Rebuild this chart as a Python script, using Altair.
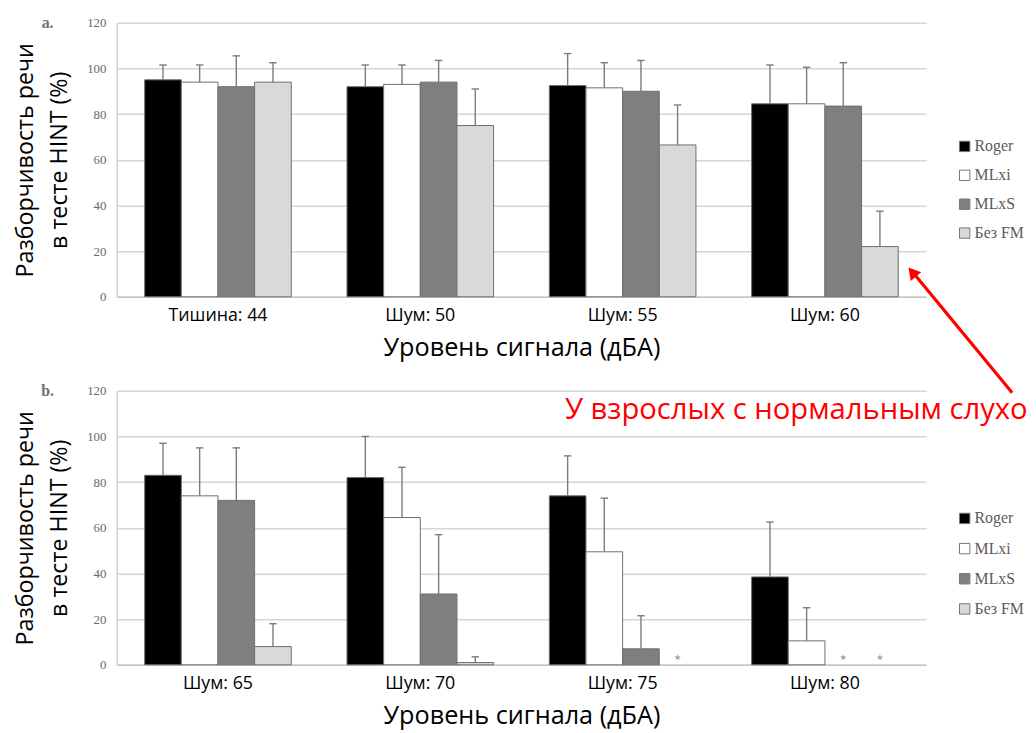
import altair as alt
import pandas as pd

series = ["Roger", "MLxi", "MLxS", "Без FM"]
bar_colors = ["#000000", "#ffffff", "#7f7f7f", "#d9d9d9"]

categories_a = ["Тишина: 44", "Шум: 50", "Шум: 55", "Шум: 60"]
a_roger = [95, 92, 92.5, 84.5]
a_mlxi = [94, 93, 91.5, 84.5]
a_mlxs = [92, 94, 90, 83.5]
a_nofm = [94, 75, 66.5, 22]
a_err_roger = [101.5, 101.5, 106.5, 101.5]
a_err_mlxi = [101.5, 101.5, 102.5, 100.5]
a_err_mlxs = [105.5, 103.5, 103.5, 102.5]
a_err_nofm = [102.5, 91, 84, 37.5]

categories_b = ["Шум: 65", "Шум: 70", "Шум: 75", "Шум: 80"]
b_roger = [83, 82, 74, 38.5]
b_mlxi = [74, 64.5, 49.5, 10.5]
b_mlxs = [72, 31, 7, None]
b_nofm = [8, 1, None, None]
b_err_roger = [97, 100, 91.5, 62.5]
b_err_mlxi = [95, 86.5, 73, 25]
b_err_mlxs = [95, 57, 21.5, None]
b_err_nofm = [18, 3.5, None, None]

star_categories = ["Шум: 75", "Шум: 80", "Шум: 80"]
star_series = ["Без FM", "MLxS", "Без FM"]

y_ticks = [0, 20, 40, 60, 80, 100, 120]
y_title = ["Разборчивость речи", "в тесте HINT (%)"]
x_title = "Уровень сигнала (дБА)"
note_text = "У взрослых с нормальным слухо"

STAR_PATH = ("M0,-1L0.2245,-0.309L0.951,-0.309L0.3633,0.118L0.5878,0.809L0,0.382"
             "L-0.5878,0.809L-0.3633,0.118L-0.951,-0.309L-0.2245,-0.309Z")


def build(cats, vals, errs):
    rows = []
    for si, s in enumerate(series):
        for ci, c in enumerate(cats):
            v = vals[si][ci]
            if v is None:
                continue
            rows.append({"category": c, "series": s, "value": v, "err_top": errs[si][ci]})
    return pd.DataFrame(rows)


df_a = build(categories_a, [a_roger, a_mlxi, a_mlxs, a_nofm],
             [a_err_roger, a_err_mlxi, a_err_mlxs, a_err_nofm])
df_b = build(categories_b, [b_roger, b_mlxi, b_mlxs, b_nofm],
             [b_err_roger, b_err_mlxi, b_err_mlxs, b_err_nofm])
df_stars = pd.DataFrame({"category": star_categories, "series": star_series})

SANS = "Open Sans"
SERIF = "Liberation Serif"


def panel(df, cats, letter, row_pad, legend_y, stars=None, annotate=False):
    x = alt.X("category:N", sort=cats,
              scale=alt.Scale(paddingInner=0, paddingOuter=0),
              axis=alt.Axis(labelAngle=0, labelFont=SANS, labelFontSize=18, labelColor="black",
                            ticks=False, labelPadding=10, domainColor="#c4c4c4", domainWidth=1.5,
                            grid=False, title=x_title, titleFont=SANS, titleFontSize=25.5,
                            titleFontWeight="normal", titleColor="black", titlePadding=11))
    xo = alt.XOffset("series:N", sort=series,
                     scale=alt.Scale(paddingInner=0, paddingOuter=0.76))
    y_axis = alt.Axis(values=y_ticks, labelFont=SERIF, labelFontSize=13, labelColor="#6a6a6a",
                      ticks=False, labelPadding=11, domainColor="#cfcfcf", domainWidth=1.5,
                      gridColor="#d6d6d6", gridWidth=1.5, title=y_title, titleFont=SANS,
                      titleFontSize=23.5, titleFontWeight="normal", titleColor="black",
                      titleLineHeight=35, titlePadding=15)
    y = alt.Y("value:Q", scale=alt.Scale(domain=[0, 120], nice=False), axis=y_axis)
    legend = alt.Legend(
        title=None, orient="none", legendX=849, legendY=legend_y, padding=0,
        symbolType="square", symbolSize=110, symbolStrokeColor="#777777", symbolStrokeWidth=1,
        labelOffset=2, rowPadding=row_pad, labelFont=SERIF, labelFontSize=16,
        labelColor="#5a5a5a",
    )
    bars = alt.Chart(df).mark_bar(stroke="#6e6e6e", strokeWidth=1).encode(
        x=x, xOffset=xo, y=y,
        color=alt.Color("series:N", sort=series,
                        scale=alt.Scale(domain=series, range=bar_colors), legend=legend),
    )
    err = alt.Chart(df).mark_rule(
        color="#7c7c7c", strokeWidth=1.4).encode(x=x, xOffset=xo, y="value:Q", y2="err_top:Q")
    cap = alt.Chart(df).mark_point(shape="stroke", size=56, color="#7c7c7c", strokeWidth=1.4,
                                   opacity=1).encode(x=x, xOffset=xo, y="err_top:Q")
    layers = [bars, err, cap]
    one = pd.DataFrame({"k": [0]})
    layers.append(alt.Chart(one).mark_text(text=letter, font=SERIF, fontSize=16, fontWeight="bold",
                                           color="#707070", align="center", baseline="middle")
                  .encode(x=alt.value(-70), y=alt.value(0)))
    if stars is not None:
        layers.append(alt.Chart(stars).mark_point(shape=STAR_PATH, filled=True, color="#a0a0a0",
                                                  size=50, opacity=1)
                      .encode(x=x, xOffset=xo, y=alt.datum(3.2)))
    if annotate:
        layers.append(alt.Chart(one).mark_rule(color="#ff0000", strokeWidth=3.2).encode(
            x=alt.value(905), y=alt.value(374), x2=alt.value(806), y2=alt.value(254)))
        layers.append(alt.Chart(one).mark_point(shape="triangle-up", filled=True, color="#ff0000",
                                                size=190, angle=320.6, opacity=1).encode(
            x=alt.value(804), y=alt.value(252)))
        layers.append(alt.Chart(one).mark_text(text=note_text, font=SANS, fontSize=29.5,
                                               color="#ff0000", align="left",
                                               baseline="alphabetic").encode(
            x=alt.value(453), y=alt.value(401)))
    return alt.layer(*layers).properties(width=818, height=277)


top = panel(df_a, categories_a, "a.", 13.2, 117, annotate=True)
bottom = panel(df_b, categories_b, "b.", 14.5, 121, stars=df_stars)

chart = alt.vconcat(top, bottom, spacing=95, bounds="flush").resolve_scale(
    color="independent"
).properties(
    padding={"left": 5, "top": 3, "right": 0, "bottom": 0}
).configure_view(stroke=None)

chart.save("out.html", embed_options={"renderer": "svg", "actions": False})
